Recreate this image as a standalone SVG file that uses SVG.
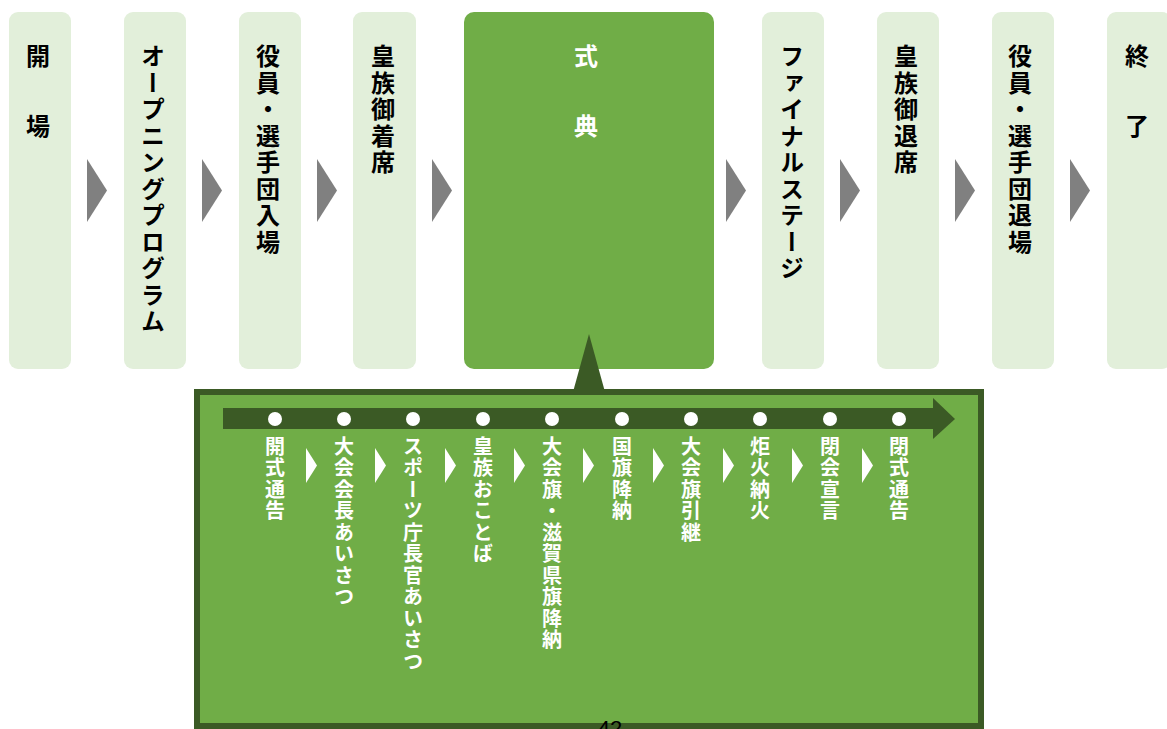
<svg xmlns="http://www.w3.org/2000/svg" width="1167" height="729" viewBox="0 0 1167 729">
<style>
.step{fill:#E2EFDA}
.main{fill:#70AD47}
.arr{fill:#808080}
.dk{fill:#3B5A25}
.t{font-family:"Noto Sans CJK JP","Noto Sans",sans-serif;font-weight:bold;font-size:24px;fill:#000}
.tv{writing-mode:vertical-rl;letter-spacing:2.5px}
.s{font-family:"Noto Sans CJK JP","Noto Sans",sans-serif;font-weight:bold;font-size:20px;fill:#fff;writing-mode:vertical-rl;letter-spacing:1.5px}
.dot{fill:#fff}
.sa{fill:#fff}
</style>
<rect width="1167" height="729" fill="#fff"/>
<g id="n1"><rect class="step" x="9" y="12" width="62" height="357" rx="9"/><text class="t" text-anchor="middle"><tspan x="38" y="65">開</tspan><tspan x="38" y="135">場</tspan></text></g>
<g id="n2"><rect class="step" x="124" y="12" width="62" height="357" rx="9"/><text class="t tv" x="153" y="44">オープニングプログラム</text></g>
<g id="n3"><rect class="step" x="239" y="12" width="62" height="357" rx="9"/><text class="t tv" x="268" y="44">役員・選手団入場</text></g>
<g id="n4"><rect class="step" x="353" y="12" width="63" height="357" rx="9"/><text class="t tv" x="383" y="44">皇族御着席</text></g>
<g id="n5"><rect class="main" x="464" y="12" width="250" height="357" rx="10"/><text class="t" text-anchor="middle" style="fill:#fff"><tspan x="586" y="65">式</tspan><tspan x="586" y="135">典</tspan></text></g>
<g id="n6"><rect class="step" x="762" y="12" width="62" height="357" rx="9"/><text class="t tv" x="792" y="44">ファイナルステージ</text></g>
<g id="n7"><rect class="step" x="877" y="12" width="62" height="357" rx="9"/><text class="t tv" x="906" y="44">皇族御退席</text></g>
<g id="n8"><rect class="step" x="992" y="12" width="62" height="357" rx="9"/><text class="t tv" x="1020" y="44">役員・選手団退場</text></g>
<g id="n9"><rect class="step" x="1107" y="12" width="64" height="357" rx="9"/><text class="t" text-anchor="middle"><tspan x="1137" y="65">終</tspan><tspan x="1137" y="135">了</tspan></text></g>
<g id="connectors">
<polygon class="arr" points="87,159 107,190.5 87,222"/>
<polygon class="arr" points="202,159 222,190.5 202,222"/>
<polygon class="arr" points="317,159 337,190.5 317,222"/>
<polygon class="arr" points="432,159 452,190.5 432,222"/>
<polygon class="arr" points="726,159 746,190.5 726,222"/>
<polygon class="arr" points="840,159 860,190.5 840,222"/>
<polygon class="arr" points="955,159 975,190.5 955,222"/>
<polygon class="arr" points="1070,159 1090,190.5 1070,222"/>
</g>
<g id="detail">
<rect x="197" y="392" width="784" height="334" fill="#70AD47" stroke="#3B5A25" stroke-width="6"/>
<polygon class="dk" points="573,392 589,334 605,392"/>
<rect class="dk" x="223" y="408" width="711" height="21"/>
<polygon class="dk" points="933,398 955,419 933,439"/>
<g>
<circle class="dot" cx="275" cy="419" r="7"/>
<circle class="dot" cx="344" cy="419" r="7"/>
<circle class="dot" cx="413" cy="419" r="7"/>
<circle class="dot" cx="483" cy="419" r="7"/>
<circle class="dot" cx="552" cy="419" r="7"/>
<circle class="dot" cx="622" cy="419" r="7"/>
<circle class="dot" cx="691" cy="419" r="7"/>
<circle class="dot" cx="760" cy="419" r="7"/>
<circle class="dot" cx="830" cy="419" r="7"/>
<circle class="dot" cx="899" cy="419" r="7"/>
</g>
<g>
<polygon class="sa" points="306,448 317,465.5 306,483"/>
<polygon class="sa" points="375,448 386,465.5 375,483"/>
<polygon class="sa" points="445,448 456,465.5 445,483"/>
<polygon class="sa" points="514,448 525,465.5 514,483"/>
<polygon class="sa" points="583,448 594,465.5 583,483"/>
<polygon class="sa" points="653,448 664,465.5 653,483"/>
<polygon class="sa" points="723,448 734,465.5 723,483"/>
<polygon class="sa" points="792,448 803,465.5 792,483"/>
<polygon class="sa" points="862,448 873,465.5 862,483"/>
</g>
<g id="s1"><text class="s" x="275" y="436">開式通告</text></g>
<g id="s2"><text class="s" x="344" y="436">大会会長あいさつ</text></g>
<g id="s3"><text class="s" x="413" y="436">スポーツ庁長官あいさつ</text></g>
<g id="s4"><text class="s" x="483" y="436">皇族おことば</text></g>
<g id="s5"><text class="s" x="552" y="436">大会旗・滋賀県旗降納</text></g>
<g id="s6"><text class="s" x="622" y="436">国旗降納</text></g>
<g id="s7"><text class="s" x="691" y="436">大会旗引継</text></g>
<g id="s8"><text class="s" x="760" y="436">炬火納火</text></g>
<g id="s9"><text class="s" x="830" y="436">閉会宣言</text></g>
<g id="s10"><text class="s" x="899" y="436">閉式通告</text></g>
</g>
<text x="610" y="736" text-anchor="middle" font-family="Liberation Sans, Arial, sans-serif" font-size="22" fill="#000">42</text>
</svg>
